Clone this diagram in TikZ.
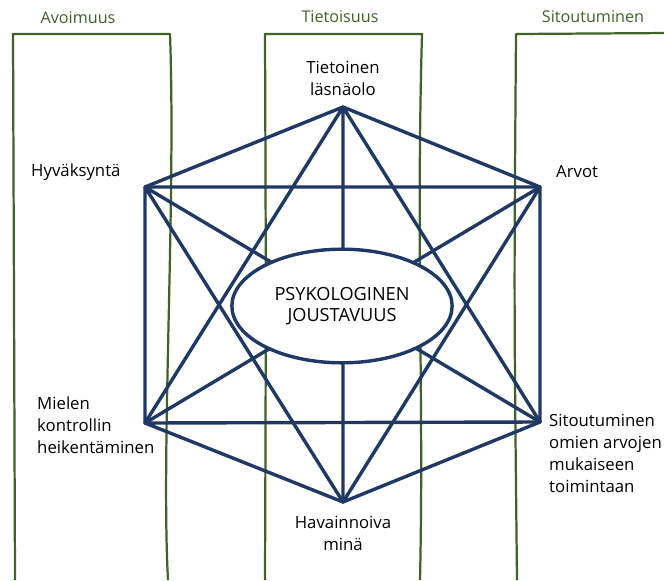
\documentclass[tikz,border=0pt]{standalone}
\usepackage{fontspec}
\setmainfont{Open Sans}
\usetikzlibrary{shapes.geometric}
\definecolor{hexblue}{HTML}{1F3864}
\definecolor{boxgreen}{HTML}{3D6326}
\begin{document}
\begin{tikzpicture}[x=0.03cm,y=-0.03cm,
  lbl/.style={inner sep=0pt, font=\fontsize{14.3}{18.8}\selectfont, align=left},
  head/.style={inner sep=0pt, font=\fontsize{13.8}{16}\selectfont, text=boxgreen},
  area/.style={draw=boxgreen, line width=1.9pt, line join=round},
  edge/.style={draw=hexblue, line width=2.9pt, line cap=round, line join=round}]
\useasboundingbox (0,0) rectangle (664,580);

% three columns
\begin{scope}
	\draw[area] (15,580) .. controls (14,300) .. (13,34) -- (170,34)
	            .. controls (176,200) and (161,450) .. (168,580);
	\node[head] (avoimuus) at (78,18) {Avoimuus};
\end{scope}

\begin{scope}
	\draw[area] (265,580) .. controls (266,300) .. (265,34) -- (422,34)
	            .. controls (416,250) and (424,400) .. (420,580);
	\node[head] (tietoisuus) at (340,17) {Tietoisuus};
\end{scope}

\begin{scope}
	\draw[area] (517,580) .. controls (514,300) .. (516,34) -- (670,33);
	\node[head] (sitoutuminen) at (593,17) {Sitoutuminen};
\end{scope}

% hexagon corners
\coordinate (yla)  at (343,107);
\coordinate (vy)   at (145,187);
\coordinate (oy)   at (540,187);
\coordinate (va)   at (145,423);
\coordinate (oa)   at (540,422);
\coordinate (ala)  at (343,502);

\draw[edge] (yla) -- (vy) (yla) -- (oy) (yla) -- (va) (yla) -- (oa) (yla) -- (ala);
\draw[edge] (vy) -- (oy) (vy) -- (va) (vy) -- (oa) (vy) -- (ala);
\draw[edge] (oy) -- (va) (oy) -- (oa) (oy) -- (ala);
\draw[edge] (va) -- (oa) (va) -- (ala);
\draw[edge] (oa) -- (ala);

\node[lbl, draw=hexblue, line width=2.9pt, fill=white, ellipse, minimum width=188pt, minimum height=97pt,
      align=center, font=\fontsize{15.5}{18.5}\selectfont] (keskus) at (342,306) {PSYKOLOGINEN\\JOUSTAVUUS};

% labels
\node[lbl, align=center] (lasna) at (343,78) {Tietoinen\\läsnäolo};
\node[lbl, anchor=west] (hyvaks) at (31,172) {Hyväksyntä};
\node[lbl, anchor=west] (arvot) at (556,172) {Arvot};
\node[lbl, anchor=west] (mieli) at (37,425) {Mielen\\kontrollin\\heikentäminen};
\node[lbl, anchor=west] (sitout) at (549,453) {Sitoutuminen\\omien arvojen\\mukaiseen\\toimintaan};
\node[lbl, align=center] (havain) at (343,533) {Havainnoiva\\minä};
\end{tikzpicture}
\end{document}
